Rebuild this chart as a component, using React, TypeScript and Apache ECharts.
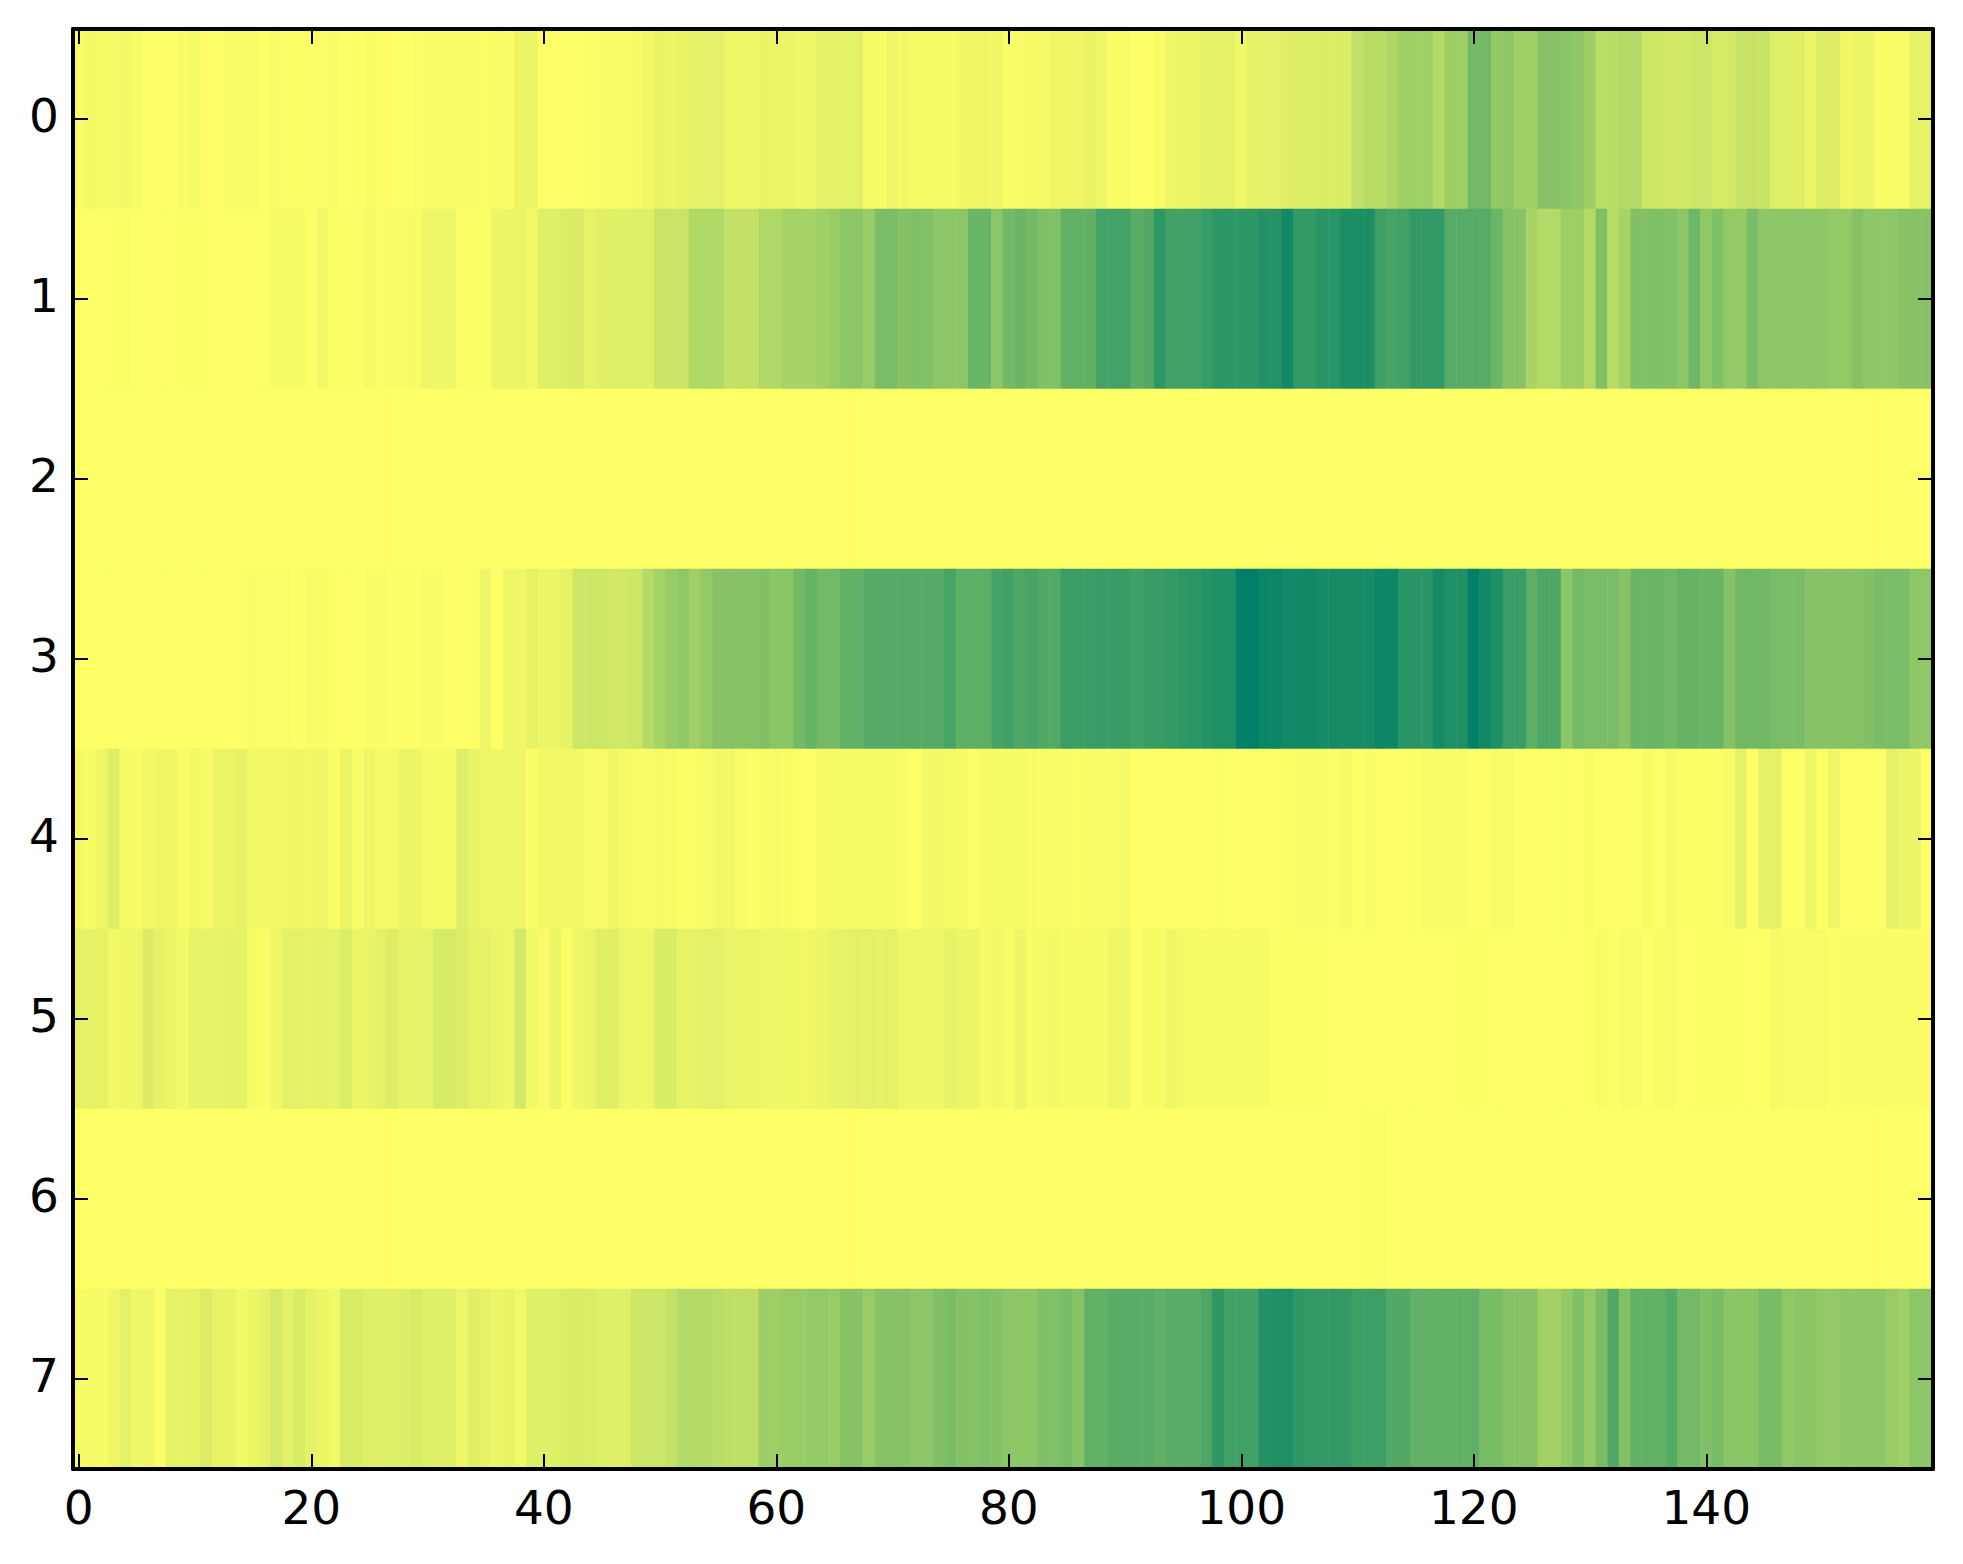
import React, { useEffect, useRef } from "react";
import * as echarts from "echarts";

const columns = Array.from({ length: 160 }, (_, i) => String(i));
const rowNames = ["0", "1", "2", "3", "4", "5", "6", "7"];

const row0 = [
  .025,.045,.03,.03,.05,.03,0,0,0,.02,.03,0,0,.02,.02,.02,0,.02,.008,.008,
  .008,.008,.015,0,0,.015,0,0,0,.008,.012,.012,.012,.012,.015,.008,.02,.015,.075,.075,
  0,0,0,0,.008,.012,.015,.015,.03,.06,.09,.07,.09,.11,.11,.11,.07,.07,.07,.09,
  .08,.08,.07,.07,.1,.11,.11,.11,.03,.03,.07,.05,.03,.03,.03,.03,.06,.06,.06,.06,
  .015,.025,.03,.04,.06,.06,.06,.09,.06,.025,.025,0,0,.025,.07,.08,.08,.1,.11,.11,
  .05,.11,.11,.11,.13,.13,.13,.14,.14,.14,.24,.27,.27,.32,.37,.37,.37,.3,.38,.38,
  .55,.55,.42,.45,.37,.37,.47,.47,.46,.44,.38,.27,.27,.3,.3,.2,.2,.18,.18,.2,
  .2,.17,.17,.22,.22,.22,.12,.12,.12,.08,.13,.13,.06,.08,.08,.02,.02,.02,.1,.1,
];
const row1 = [
  0,0,0,0,.01,0,0,0,0,0,.01,0,0,0,0,0,0,.03,.03,.03,
  0,.05,.01,.01,.01,.04,.01,.02,.02,.03,.07,.07,.07,.01,.01,.01,.08,.08,.08,.05,
  .12,.12,.14,.14,.1,.12,.12,.12,.12,.12,.21,.21,.21,.31,.31,.31,.24,.24,.24,.31,
  .31,.35,.35,.35,.37,.4,.45,.45,.4,.52,.52,.48,.5,.5,.45,.45,.45,.58,.58,.45,
  .55,.58,.55,.5,.5,.62,.62,.62,.73,.73,.73,.65,.68,.82,.74,.74,.74,.78,.83,.82,
  .82,.82,.86,.86,.93,.8,.8,.84,.84,.89,.89,.89,.76,.72,.74,.8,.8,.8,.66,.66,
  .66,.66,.58,.47,.47,.34,.3,.3,.38,.38,.3,.5,.28,.35,.5,.5,.5,.5,.45,.57,
  .43,.5,.42,.42,.52,.45,.45,.45,.45,.45,.45,.42,.42,.48,.44,.44,.44,.47,.47,.47,
];
const row2 = columns.map(() => 0);
const row3 = [
  0,0,0,0,0,0,0,0,0,0,0,0,0,0,0,.015,.008,.008,.015,0,
  .02,.02,0,0,0,.012,.012,.004,.004,.004,.015,.015,0,0,0,.06,0,.06,.06,.1,
  .08,.08,.1,.2,.2,.2,.18,.18,.2,.3,.35,.4,.43,.37,.42,.47,.47,.47,.47,.5,
  .46,.46,.55,.6,.55,.55,.62,.62,.67,.67,.67,.67,.67,.67,.67,.72,.63,.63,.63,.72,
  .75,.7,.72,.68,.68,.77,.77,.77,.78,.78,.78,.75,.78,.78,.8,.82,.83,.85,.88,.88,
  1,1,.96,.96,.93,.93,.93,.91,.91,.91,.91,.91,.95,.95,.84,.84,.84,.92,.88,.88,
  1,.93,.88,.77,.77,.63,.7,.7,.45,.55,.52,.52,.52,.47,.58,.58,.58,.56,.6,.6,
  .58,.58,.47,.56,.56,.56,.52,.52,.52,.47,.47,.47,.47,.47,.5,.52,.52,.52,.44,.44,
];
const row4 = [
  .04,.03,.06,.13,.04,.025,.05,.06,.06,.025,.055,.04,.08,.08,.1,.055,.055,.055,.055,.06,
  .06,.06,.015,.08,.025,.07,.04,.04,.08,.08,.04,.04,.04,.13,.09,.07,.07,.07,.07,.015,
  .055,.055,.05,.05,.025,.025,.06,.04,.025,.025,.04,.025,.008,.008,.025,.055,.055,.015,0,.015,
  .025,.015,0,0,.03,.03,.03,.03,.03,.03,.03,.015,0,.05,.05,.04,.04,.008,.03,.03,
  .03,.03,.025,.015,.025,.025,.008,.025,.025,.025,.04,0,0,0,0,0,0,0,.008,0,
  0,0,0,0,.008,.015,.015,.015,.004,.04,0,.025,0,0,0,0,.025,.015,.025,.025,
  0,0,.02,.02,0,0,0,0,.008,0,.015,0,0,0,0,.035,0,.04,.008,.008,
  .008,.008,.035,.1,0,.11,.11,0,0,.07,0,.06,0,0,0,0,.11,.08,.08,0,
];
const row5 = [
  .1,.1,.1,.05,.07,.07,.14,.095,.08,.05,.095,.095,.095,.1,.1,.035,.017,.06,.11,.11,
  .1,.1,.095,.145,.085,.085,.11,.135,.095,.095,.095,.165,.165,.135,.1,.1,.08,.07,.17,.05,
  .025,.08,.017,.06,.085,.12,.12,.07,.07,.07,.145,.145,.095,.095,.11,.11,.085,.085,.085,.07,
  .07,.07,.06,.06,.08,.095,.095,.11,.11,.095,.11,.06,.07,.07,.07,.095,.08,.08,.035,.05,
  .03,.08,.035,.035,.05,.035,.035,.035,.035,.06,.06,0,.03,.03,.06,.045,.03,.03,.03,.03,
  .03,.03,.03,.01,.01,.01,.01,.01,0,0,0,0,0,0,0,0,0,0,0,0,
  .01,0,0,0,0,0,0,0,0,0,0,.02,0,.025,.025,0,.02,.02,0,0,
  .01,.01,.01,0,0,0,.04,.025,.025,.025,.02,0,.015,.015,.015,.015,.015,.015,.015,.015,
];
const row6 = columns.map((_, i) => (i === 111 || i === 112 ? 0.006 : 0));
const row7 = [
  .03,.03,.03,.06,.11,.06,.06,.01,.1,.1,.1,.14,.09,.09,.05,.08,.1,.17,.11,.15,
  .1,.08,.05,.15,.15,.12,.12,.12,.13,.16,.12,.12,.12,.07,.12,.1,.07,.09,.05,.12,
  .12,.12,.14,.14,.14,.12,.12,.12,.2,.2,.2,.23,.3,.3,.3,.27,.25,.25,.25,.38,
  .38,.4,.4,.42,.42,.4,.47,.47,.4,.47,.47,.47,.45,.45,.5,.52,.48,.47,.5,.48,
  .45,.45,.45,.5,.5,.53,.47,.62,.62,.65,.65,.65,.65,.62,.65,.65,.65,.7,.82,.75,
  .75,.74,.86,.88,.88,.82,.8,.8,.8,.8,.76,.76,.76,.68,.68,.62,.62,.62,.62,.62,
  .62,.53,.53,.47,.47,.47,.36,.36,.42,.5,.42,.52,.68,.5,.62,.62,.62,.67,.55,.55,
  .5,.53,.46,.46,.46,.53,.53,.43,.46,.46,.42,.42,.44,.44,.44,.44,.41,.37,.45,.45,
];

const rows = [row0, row1, row2, row3, row4, row5, row6, row7];
const cells = rows.flatMap((r, y) => r.map((v, x) => [x, y, v]));

const lineStyle = { color: "#000", width: 4 };
const tickStyle = { color: "#000", width: 2 };
const fontFamily = "DejaVu Sans";

const everyTwenty = (index: number) => index % 20 === 0;

function xAxis(position: "top" | "bottom") {
  return {
    type: "category",
    position,
    data: columns,
    z: 10,
    boundaryGap: true,
    axisLine: { show: true, onZero: false, lineStyle },
    axisTick: { show: true, inside: true, length: 15, alignWithLabel: true, interval: everyTwenty, lineStyle: tickStyle },
    axisLabel: {
      show: position === "bottom",
      interval: everyTwenty,
      color: "#000",
      fontSize: 47,
      fontFamily,
      margin: 15,
    },
    splitLine: { show: false },
  };
}

function yAxis(position: "left" | "right") {
  return {
    type: "category",
    position,
    inverse: true,
    data: rowNames,
    z: 10,
    boundaryGap: true,
    axisLine: { show: true, onZero: false, lineStyle },
    axisTick: { show: true, inside: true, length: 15, alignWithLabel: true, lineStyle: tickStyle },
    axisLabel: {
      show: position === "left",
      color: "#000",
      fontSize: 47,
      fontFamily,
      margin: 14,
      verticalAlign: "bottom",
      lineHeight: 7,
    },
    splitLine: { show: false },
  };
}

export default function App() {
  const ref = useRef<HTMLDivElement>(null);
  useEffect(() => {
    const chart = echarts.init(ref.current!, null, { renderer: "svg" });
    chart.setOption({
      animation: false,
      backgroundColor: "#fff",
      grid: { left: 73, top: 29, width: 1860, height: 1440, containLabel: false },
      xAxis: [xAxis("bottom"), xAxis("top")],
      yAxis: [yAxis("left"), yAxis("right")],
      visualMap: {
        show: false,
        min: 0,
        max: 1,
        dimension: 2,
        seriesIndex: 0,
        inRange: { color: ["#ffff66", "#008066"] },
      },
      series: [
        {
          type: "heatmap",
          data: cells,
          xAxisIndex: 0,
          yAxisIndex: 0,
          progressive: 0,
          itemStyle: { borderWidth: 0 },
          emphasis: { disabled: true },
        },
      ],
    });
    return () => chart.dispose();
  }, []);
  return <div ref={ref} style={{ position: "absolute", left: 0, top: 0, width: 1963, height: 1564 }} />;
}
